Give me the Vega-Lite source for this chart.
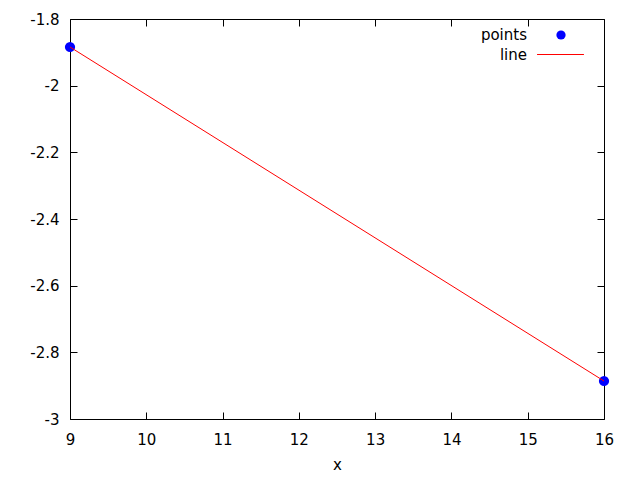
{
  "$schema": "https://vega.github.io/schema/vega-lite/v6.json",
  "width": 534,
  "height": 400,
  "autosize": "none",
  "padding": {"left": 70, "top": 19, "right": 36, "bottom": 61},
  "background": "white",
  "config": {
    "view": {"stroke": "black", "strokeWidth": 1},
    "font": "DejaVu Sans",
    "axis": {
      "grid": false,
      "domain": false,
      "tickColor": "black",
      "tickSize": -7,
      "labelFont": "DejaVu Sans",
      "labelFontSize": 15,
      "labelColor": "black",
      "titleFont": "DejaVu Sans",
      "titleFontSize": 15,
      "titleFontWeight": "normal",
      "titleColor": "black"
    },
    "legend": {
      "labelFont": "DejaVu Sans",
      "labelFontSize": 15,
      "labelColor": "black",
      "labelAlign": "right",
      "orient": "none"
    }
  },
  "datasets": {
    "pts": [
      {"x": 9, "y": -1.884, "series": "points"},
      {"x": 16, "y": -2.886, "series": "points"}
    ],
    "ln": [
      {"x": 9, "y": -1.884, "series": "line"},
      {"x": 16, "y": -2.886, "series": "line"}
    ]
  },
  "layer": [
    {
      "data": {"name": "pts"},
      "mark": {"type": "point", "filled": true, "size": 105, "opacity": 1},
      "encoding": {
        "x": {
          "field": "x", "type": "quantitative",
          "scale": {"domain": [9, 16], "nice": false, "zero": false},
          "axis": {"orient": "bottom", "title": "x", "values": [9, 10, 11, 12, 13, 14, 15, 16], "labelPadding": 20, "titlePadding": 10, "labelFlush": false}
        },
        "y": {
          "field": "y", "type": "quantitative",
          "scale": {"domain": [-3, -1.8], "nice": false, "zero": false},
          "axis": {"orient": "left", "title": null, "values": [-3, -2.8, -2.6, -2.4, -2.2, -2, -1.8], "labelPadding": 18, "labelFlush": false,
            "labelExpr": "replace(format(datum.value, '.1~f'), '\u2212', '-')"}
        },
        "fill": {
          "field": "series", "type": "nominal",
          "scale": {"domain": ["points"], "range": ["blue"]},
          "legend": {
            "title": null,
            "legendX": 483.5,
            "legendY": 8.5,
            "labelOffset": -41.5,
            "symbolType": "circle",
            "symbolSize": 85,
            "symbolStrokeWidth": 0,
            "symbolOpacity": 1
          }
        }
      }
    },
    {
      "data": {"name": "ln"},
      "mark": {"type": "line", "strokeWidth": 1},
      "encoding": {
        "x": {
          "field": "x", "type": "quantitative",
          "axis": {"orient": "top", "title": null, "labels": false, "values": [9, 10, 11, 12, 13, 14, 15, 16]}
        },
        "y": {
          "field": "y", "type": "quantitative",
          "axis": {"orient": "right", "title": null, "labels": false, "values": [-3, -2.8, -2.6, -2.4, -2.2, -2, -1.8]}
        },
        "stroke": {
          "field": "series", "type": "nominal",
          "scale": {"domain": ["line"], "range": ["red"]},
          "legend": {
            "title": null,
            "legendX": 466.5,
            "legendY": 11.5,
            "labelOffset": -57.5,
            "symbolType": "stroke",
            "symbolSize": 2200,
            "symbolStrokeWidth": 1
          }
        }
      }
    }
  ],
  "resolve": {"axis": {"x": "independent", "y": "independent"}}
}
